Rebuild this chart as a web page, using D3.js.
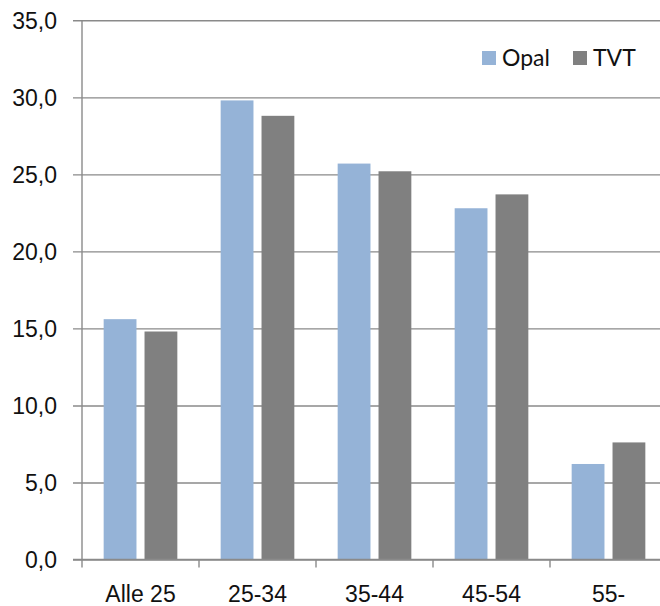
<!DOCTYPE html>
<html>
<head>
<meta charset="utf-8">
<script src="https://cdn.jsdelivr.net/npm/d3@7"></script>
<style>
  html, body { margin: 0; padding: 0; background: #fff; }
  svg { display: block; font-family: Lato, "Open Sans", sans-serif; }
</style>
</head>
<body>
<svg id="chart" width="660" height="606"></svg>
<script>
// Age groups and the share for each series
const categories = ["Alle 25", "25-34", "35-44", "45-54", "55-"];
const seriesNames = ["Opal", "TVT"];
const opal = [15.6, 29.8, 25.7, 22.8, 6.2];
const tvt = [14.8, 28.8, 25.2, 23.7, 7.6];
const yTicks = [0, 5, 10, 15, 20, 25, 30, 35];
const colors = ["#95B3D7", "#808080"];

const values = [opal, tvt];
const svg = d3.select("#chart");

const plotLeft = 82, plotTop = 20.3, plotBottom = 559.5, step = 117;

const x = d3.scaleBand()
  .domain(categories)
  .range([plotLeft, plotLeft + step * categories.length])
  .padding(0);

const xInner = d3.scaleBand()
  .domain(seriesNames)
  .range([0, x.bandwidth()])
  .paddingInner(0.197)
  .paddingOuter(0.53);

const y = d3.scaleLinear().domain([0, 35]).range([plotBottom, plotTop]);

const fmt = v => d3.format(".1f")(v).replace(".", ",");

// Horizontal gridlines with the value axis
const yAxis = d3.axisLeft(y)
  .tickValues(yTicks)
  .tickFormat(fmt)
  .tickSize(-(660 - plotLeft))
  .tickSizeOuter(0)
  .tickPadding(0);

const gy = svg.append("g")
  .attr("transform", `translate(${plotLeft},0)`)
  .call(yAxis);
gy.select(".domain").remove();
gy.selectAll(".tick line")
  .attr("x1", -9)
  .attr("stroke", "#8a8a8a")
  .attr("stroke-width", 1.4);
gy.selectAll(".tick text")
  .attr("x", -25)
  .attr("dy", "0.36em")
  .attr("fill", "#111")
  .style("font-size", "23px");

// Bars
const groups = svg.append("g")
  .selectAll("g")
  .data(categories)
  .join("g")
  .attr("transform", d => `translate(${x(d)},0)`);

groups.selectAll("rect")
  .data((d, i) => seriesNames.map((s, j) => ({ s, v: values[j][i], c: colors[j] })))
  .join("rect")
  .attr("x", d => xInner(d.s))
  .attr("width", xInner.bandwidth())
  .attr("y", d => y(d.v))
  .attr("height", d => y(0) - y(d.v))
  .attr("fill", d => d.c);

// Category axis
const xAxis = d3.axisBottom(x)
  .tickSize(0)
  .tickPadding(0)
  .tickSizeOuter(0);
const gx = svg.append("g")
  .attr("transform", `translate(0,${plotBottom})`)
  .call(xAxis);
gx.select(".domain").remove();
gx.selectAll(".tick text")
  .attr("y", 42)
  .attr("dy", 0)
  .attr("fill", "#111")
  .style("font-size", "23px");

// Category separators below the axis
svg.append("g")
  .selectAll("line")
  .data(categories)
  .join("line")
  .attr("x1", d => x(d))
  .attr("x2", d => x(d))
  .attr("y1", plotBottom)
  .attr("y2", plotBottom + 8)
  .attr("stroke", "#8a8a8a")
  .attr("stroke-width", 1.4);

// Axis lines
svg.append("line")
  .attr("x1", plotLeft).attr("x2", plotLeft)
  .attr("y1", plotTop).attr("y2", plotBottom)
  .attr("stroke", "#8a8a8a").attr("stroke-width", 1.4);
svg.append("line")
  .attr("x1", plotLeft - 9).attr("x2", 660)
  .attr("y1", plotBottom).attr("y2", plotBottom)
  .attr("stroke", "#8a8a8a").attr("stroke-width", 1.4);

// Legend
const legendX = [482, 573];
const legend = svg.append("g")
  .selectAll("g")
  .data(seriesNames)
  .join("g")
  .attr("transform", (d, i) => `translate(${legendX[i]},51)`);
legend.append("rect")
  .attr("width", 14).attr("height", 14)
  .attr("fill", (d, i) => colors[i]);
legend.append("text")
  .attr("x", 20).attr("y", 15)
  .attr("fill", "#111")
  .style("font-size", "23px")
  .text(d => d);
</script>
</body>
</html>
